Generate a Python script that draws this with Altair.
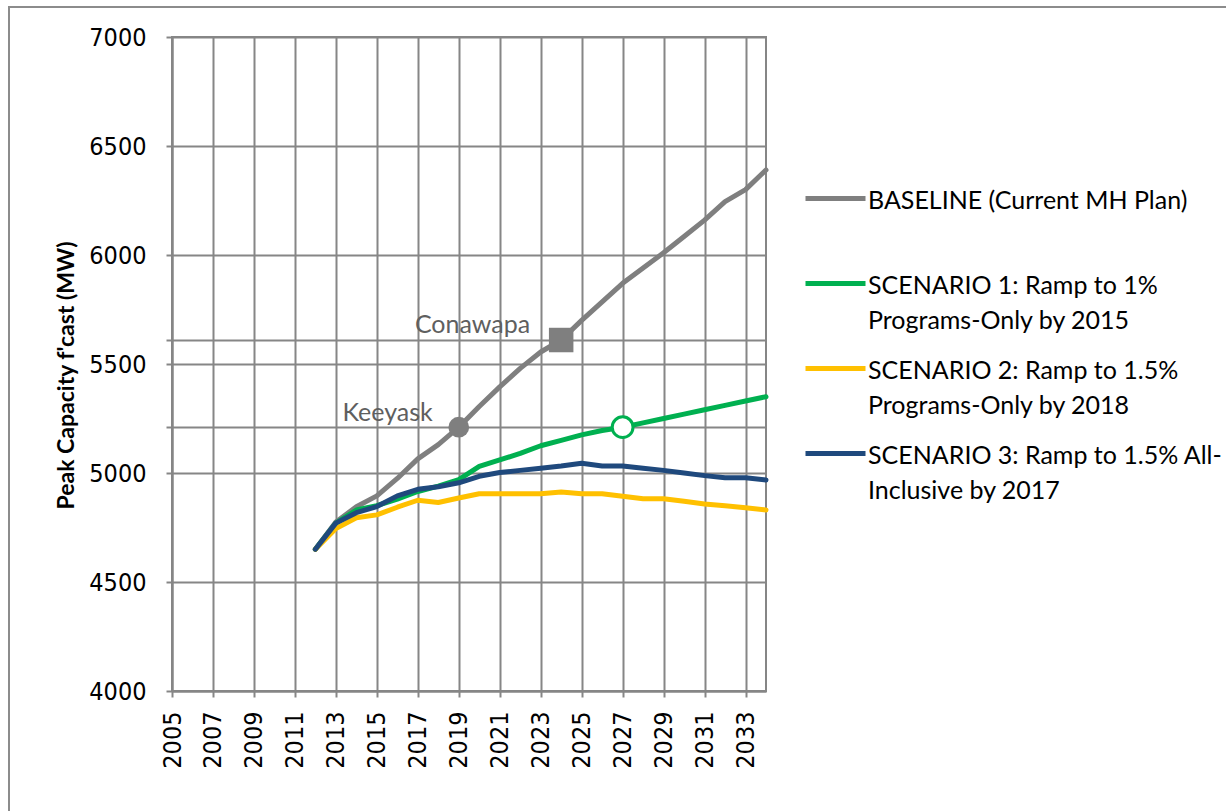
import altair as alt
import pandas as pd

# Forecast years and peak capacity forecasts (MW) for each plan
years = list(range(2012, 2035))
baseline = [4650, 4775, 4845, 4895, 4975, 5065, 5130, 5210, 5305, 5395, 5480, 5555,
            5610, 5700, 5785, 5870, 5940, 6010, 6085, 6160, 6245, 6300, 6390]
scenario1 = [4650, 4770, 4830, 4850, 4880, 4915, 4940, 4970, 5030, 5060, 5090, 5125,
             5150, 5175, 5195, 5210, 5230, 5250, 5270, 5290, 5310, 5330, 5350]
scenario2 = [4650, 4745, 4795, 4808, 4843, 4875, 4865, 4885, 4905, 4905, 4905, 4905,
             4913, 4905, 4905, 4893, 4882, 4882, 4870, 4858, 4850, 4841, 4830]
scenario3 = [4650, 4770, 4818, 4846, 4895, 4925, 4937, 4955, 4985, 5002, 5012, 5022,
             5032, 5045, 5032, 5032, 5022, 5012, 5000, 4988, 4978, 4978, 4968]

series_names = [
    "BASELINE (Current MH Plan)| ",
    "SCENARIO 1: Ramp to 1%|Programs-Only by 2015",
    "SCENARIO 2: Ramp to 1.5%|Programs-Only by 2018",
    "SCENARIO 3: Ramp to 1.5% All-|Inclusive by 2017",
]
series_colors = ["#7f7f7f", "#00b050", "#ffc000", "#1f497d"]

# Milestones: new generating stations on the baseline, and the year scenario 1 reaches Keeyask level
keeyask_year, conawapa_year, s1_year = 2019, 2024, 2027

keeyask_mw = baseline[years.index(keeyask_year)]
conawapa_mw = baseline[years.index(conawapa_year)]
s1_mw = scenario1[years.index(s1_year)]

rows = []
for name, vals in zip(series_names, [baseline, scenario1, scenario2, scenario3]):
    for y, v in zip(years, vals):
        rows.append({"year": y, "mw": v, "series": name})
df = pd.DataFrame(rows)

stations = pd.DataFrame({
    "year": [keeyask_year, conawapa_year],
    "mw": [keeyask_mw, conawapa_mw],
    "name": ["Keeyask", "Conawapa"],
})
s1_mark = pd.DataFrame({"year": [s1_year], "mw": [s1_mw]})

GRID = "#868686"
TICK_FONT = "DejaVu Sans Condensed"
x_enc = alt.X(
    "year:Q",
    scale=alt.Scale(domain=[2005, 2034], nice=False, zero=False),
    axis=alt.Axis(
        values=list(range(2005, 2035)),
        format="d",
        labelExpr="datum.value % 2 == 1 && datum.value < 2034 ? datum.label : ''",
        labelAngle=270,
        labelFont=TICK_FONT,
        labelFontSize=25,
        labelColor="black",
        labelPadding=14,
        labelOverlap=False,
        labelFlush=False,
        tickSize=6,
        tickColor=GRID,
        tickWidth=2,
        domainColor=GRID,
        domainWidth=2,
        gridColor=GRID,
        gridWidth=2,
        title=None,
    ),
)
y_enc = alt.Y(
    "mw:Q",
    scale=alt.Scale(domain=[4000, 7000], nice=False, zero=False),
    axis=alt.Axis(
        values=[4000, 4500, 5000, keeyask_mw, 5500, conawapa_mw, 6000, 6500, 7000],
        format="d",
        labelExpr="datum.value % 500 == 0 ? datum.label : ''",
        labelFont=TICK_FONT,
        labelFontSize=25,
        labelColor="black",
        labelPadding=20,
        labelOverlap=False,
        tickSize=6,
        tickColor=GRID,
        tickWidth=2,
        domainColor=GRID,
        domainWidth=2,
        gridColor=GRID,
        gridWidth=2,
        title="Peak Capacity f'cast (MW)",
        titleFont="Lato",
        titleFontSize=23,
        titleFontWeight="bold",
        titleColor="black",
        titleAngle=270,
        titleX=-106,
        titleY=338,
        titleAlign="center",
        titleBaseline="middle",
    ),
)

lines = alt.Chart(df).mark_line(strokeWidth=5, strokeJoin="round", strokeCap="round").encode(
    x=x_enc,
    y=y_enc,
    color=alt.Color(
        "series:N",
        scale=alt.Scale(domain=series_names, range=series_colors),
        sort=series_names,
        legend=alt.Legend(
            orient="none",
            legendX=631,
            legendY=139,
            title=None,
            padding=0,
            labelExpr="split(datum.label, '|')",
            labelFont="Lato",
            labelFontSize=25,
            labelColor="black",
            labelBaseline="alphabetic",
            labelLimit=600,
            labelOffset=0,
            # horizontal stroke raised to sit level with the first label line
            symbolType="M-1,-0.33L1,-0.33",
            symbolSize=3600,
            symbolStrokeWidth=5,
            symbolOffset=0,
            rowPadding=12,
        ),
    ),
    order=alt.Order("series:N"),
)

keeyask_pt = alt.Chart(stations).transform_filter(alt.datum.name == "Keeyask").mark_point(
    shape="circle", filled=True, size=430, color="#7f7f7f", opacity=1
).encode(x="year:Q", y="mw:Q")

conawapa_pt = alt.Chart(stations).transform_filter(alt.datum.name == "Conawapa").mark_point(
    shape="square", filled=True, size=600, color="#7f7f7f", opacity=1
).encode(x="year:Q", y="mw:Q")

s1_pt = alt.Chart(s1_mark).mark_point(
    shape="circle", filled=True, size=430, fill="white", stroke="#00b050", strokeWidth=3, opacity=1
).encode(x="year:Q", y="mw:Q")

keeyask_text = alt.Chart(stations).transform_filter(alt.datum.name == "Keeyask").mark_text(
    align="right", baseline="alphabetic", dx=-26, dy=-6, font="Lato", fontSize=25, color="#5f5f5f"
).encode(x="year:Q", y="mw:Q", text="name:N")

conawapa_text = alt.Chart(stations).transform_filter(alt.datum.name == "Conawapa").mark_text(
    align="right", baseline="alphabetic", dx=-31, dy=-7, font="Lato", fontSize=25, color="#5f5f5f"
).encode(x="year:Q", y="mw:Q", text="name:N")

# Outer frame around the whole figure
frame = alt.Chart(pd.DataFrame({"k": [0]})).mark_rect(
    fill=None, stroke="#8c8c8c", strokeWidth=2
).encode(x=alt.value(-163), x2=alt.value(1100), y=alt.value(-30), y2=alt.value(800))

chart = alt.layer(
    frame, lines, keeyask_pt, conawapa_pt, s1_pt, keeyask_text, conawapa_text
).properties(
    width=594,
    height=654,
    autosize=alt.AutoSizeParams(type="none"),
    padding={"left": 172, "top": 37, "right": 460, "bottom": 120},
    background="white",
).configure(
    style={"guide-label": {"lineHeight": 35}}
).configure_view(
    stroke=GRID, strokeWidth=2
)

chart.save("out.html", embed_options={"renderer": "svg", "actions": False})
